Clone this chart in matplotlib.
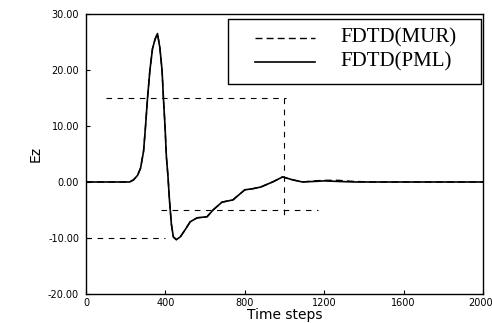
"""Ez probe signal vs time step: Mur ABC against PML boundary."""
import matplotlib
matplotlib.use("Agg")
import matplotlib.pyplot as plt
from matplotlib.patches import Rectangle
from matplotlib.transforms import ScaledTranslation

# time steps sampled along the recorded trace
steps = [0, 220, 240, 260, 275, 290, 300, 310, 322, 335, 348, 360, 372, 383,
         390, 398, 405, 413, 420, 430, 440, 455, 475, 500, 525, 560, 610, 640,
         685, 740, 800, 840, 880, 940, 990, 1040, 1090, 1150, 1200, 1270, 1350,
         1450, 1600, 1800, 2000]

ez_mur = [0.0, 0.0, 0.4, 1.2, 2.5, 5.5, 10.0, 15.0, 20.0, 23.8, 25.5, 26.5,
          24.0, 20.0, 15.0, 10.0, 4.5, 1.0, -3.0, -7.5, -9.8, -10.3, -9.8,
          -8.5, -7.1, -6.4, -6.2, -5.0, -3.6, -3.2, -1.4, -1.2, -0.9, 0.0,
          0.9, 0.4, 0.0, 0.2, 0.3, 0.3, 0.1, 0.0, 0.0, 0.0, 0.0]

ez_pml = [0.0, 0.0, 0.4, 1.2, 2.5, 5.5, 10.0, 15.0, 20.0, 23.8, 25.5, 26.5,
          24.0, 20.0, 15.0, 10.0, 4.5, 1.0, -3.0, -7.5, -9.8, -10.3, -9.8,
          -8.5, -7.1, -6.4, -6.2, -5.0, -3.6, -3.2, -1.4, -1.2, -0.9, 0.0,
          0.9, 0.4, 0.0, 0.1, 0.2, 0.1, 0.0, 0.0, 0.0, 0.0, 0.0]

# reference guide lines: (x0, x1, y0, y1)
guides = [
    (100, 1010, 15.0, 15.0),
    (1000, 1000, 15.0, -6.5),
    (380, 1170, -5.0, -5.0),
    (0, 400, -10.0, -10.0),
]

x_ticks = [0, 400, 800, 1200, 1600, 2000]
y_ticks = [-20, -10, 0, 10, 20, 30]

MUR_STYLE = dict(color="black", lw=1.0, ls=(0, (5, 3)))
PML_STYLE = dict(color="black", lw=1.2, ls="-")


def draw_key(ax) -> None:
    """Boxed key in the upper right, laid out by hand in axes fractions."""
    tr = ax.transAxes
    ax.add_patch(Rectangle((0.358, 0.75), 0.637, 0.232, transform=tr,
                           fill=True, facecolor="white", edgecolor="black",
                           lw=1.0, zorder=5))
    rows = [(0.914, "FDTD(MUR)", MUR_STYLE), (0.829, "FDTD(PML)", PML_STYLE)]
    for y, label, style in rows:
        ax.plot([0.426, 0.577], [y, y], transform=tr, zorder=6, **style)
        ax.text(0.640, y, label, transform=tr, ha="left", va="center",
                family="Liberation Serif", fontsize=15, zorder=6)


def main() -> None:
    fig = plt.figure(figsize=(4.92, 3.23), dpi=100)
    ax = fig.add_axes([0.1748, 0.0898, 0.8069, 0.8669])

    for x0, x1, y0, y1 in guides:
        ax.plot([x0, x1], [y0, y1], color="black", lw=0.8, ls=(0, (5, 5)))

    ax.plot(steps, ez_pml, **PML_STYLE)
    ax.plot(steps, ez_mur, **MUR_STYLE)

    ax.set_xlim(0, 2000)
    ax.set_ylim(-20, 30)
    ax.set_xticks(x_ticks, [str(t) for t in x_ticks])
    ax.set_yticks(y_ticks, [f"{v:.2f}" for v in y_ticks])
    ax.tick_params(direction="in", length=3, labelsize=7)
    ax.tick_params(axis="x", pad=3)
    ax.tick_params(axis="y", pad=5)
    for s in ax.spines.values():
        s.set_linewidth(1.0)

    # last x label sits at the figure edge; pull it inside
    last = ax.get_xticklabels()[-1]
    last.set_horizontalalignment("right")
    last.set_transform(last.get_transform()
                       + ScaledTranslation(7 / 72, 0, fig.dpi_scale_trans))

    ax.set_xlabel("Time steps", fontsize=10, labelpad=0)
    ax.set_ylabel("Ez", fontsize=10, labelpad=4)

    draw_key(ax)

    fig.savefig("out.png", dpi=100)


if __name__ == "__main__":
    main()
